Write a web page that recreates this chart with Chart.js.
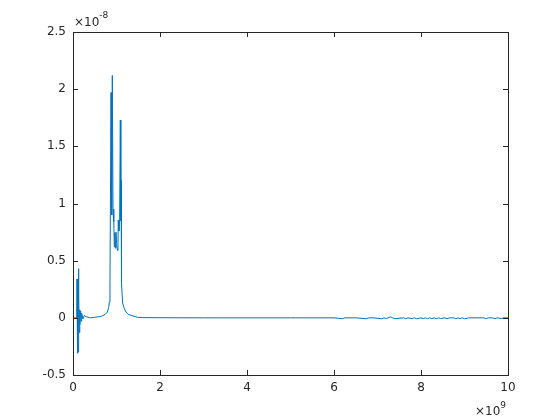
<!DOCTYPE html>
<html>
<head>
<meta charset="utf-8">
<script src="https://cdn.jsdelivr.net/npm/chart.js@4"></script>
<style>
  html, body { margin: 0; padding: 0; background: #fff; }
  #wrap { width: 560px; height: 420px; }
</style>
</head>
<body>
<div id="wrap"><canvas id="plot" width="560" height="420"></canvas></div>
<script>
// frequentie in eenheden van 1e9, amplitude in eenheden van 1e-8
const freq = [
  0, 0.05, 0.085, 0.092, 0.1, 0.107, 0.115, 0.123, 0.13, 0.137, 0.145, 0.152, 0.16, 0.175, 0.19, 0.2, 0.23, 0.26, 0.3,
  0.4, 0.5, 0.6, 0.66, 0.74, 0.79, 0.82, 0.835, 0.85, 0.874, 0.889, 0.904, 0.92, 0.935, 0.94, 0.95, 0.958, 0.965,
  0.975, 0.988, 1.003, 1.02, 1.034, 1.04, 1.057, 1.072, 1.088, 1.1, 1.105, 1.11, 1.12, 1.14, 1.18, 1.22, 1.27,
  1.35, 1.48, 1.6, 2, 3, 4, 5, 6, 6.2, 6.25, 6.3, 6.5, 6.75, 6.8, 6.9, 7.1, 7.15, 7.2, 7.3, 7.35, 7.4, 7.6,
  7.65, 7.7, 7.8, 7.85, 7.9, 8.0, 8.05, 8.1, 8.15, 8.2, 8.25, 8.3, 8.35, 8.4, 8.45, 8.55, 8.6, 8.65, 8.75,
  8.8, 8.85, 8.9, 8.95, 9.0, 9.1, 9.45, 9.5, 9.55, 9.65, 9.7, 9.75, 9.85, 9.9, 10
];
const amp = [
  0, 0, 0, 0.34, -0.31, 0.33, -0.30, 0.43, -0.05, 0.17, -0.13, 0.07, -0.06, 0.06, -0.03, 0.04, -0.01, 0.02, 0.01,
  0, 0.005, 0.01, 0.015, 0.03, 0.05, 0.09, 0.14, 0.31, 1.97, 0.9, 2.12, 0.92, 0.95, 0.84, 0.62, 0.72, 0.745,
  0.61, 0.75, 0.65, 0.59, 0.63, 0.855, 0.76, 0.84, 1.73, 0.85, 1.2, 0.92, 0.31, 0.13, 0.08, 0.05, 0.03,
  0.02, 0.005, 0.002, 0.001, 0, 0, 0, 0, -0.008, 0, 0, 0, -0.008, 0, 0, -0.008, 0, -0.006, 0.008, 0, -0.008, 0,
  -0.008, 0, -0.007, 0, -0.008, 0, -0.007, 0, -0.008, 0, -0.007, 0, -0.008, 0, -0.006, 0, -0.008, 0, 0,
  -0.008, 0, -0.007, 0, -0.008, 0, 0, -0.008, 0, 0, -0.008, 0, -0.006, 0, 0
];
const xTicks = [0, 2, 4, 6, 8, 10];
const yTicks = [-0.5, 0, 0.5, 1, 1.5, 2, 2.5];
const xExp = '9';
const yExp = '-8';

const axisColor = '#262626';
const fontFam = '"DejaVu Sans", sans-serif';

// box rond het assenstelsel, ticks naar binnen, exponent labels
const matlabAxes = {
  id: 'matlabAxes',
  afterDraw(chart) {
    const { ctx, chartArea: a, scales } = chart;
    ctx.save();
    ctx.strokeStyle = axisColor;
    ctx.lineWidth = 1;
    ctx.strokeRect(Math.round(a.left) + 0.5, Math.round(a.top) + 0.5,
      Math.round(a.right - a.left), Math.round(a.bottom - a.top));
    ctx.beginPath();
    xTicks.forEach(v => {
      const px = Math.round(scales.x.getPixelForValue(v)) + 0.5;
      ctx.moveTo(px, a.bottom); ctx.lineTo(px, a.bottom - 5);
      ctx.moveTo(px, a.top); ctx.lineTo(px, a.top + 5);
    });
    yTicks.forEach(v => {
      const py = Math.round(scales.y.getPixelForValue(v)) + 0.5;
      ctx.moveTo(a.left, py); ctx.lineTo(a.left + 5, py);
      ctx.moveTo(a.right, py); ctx.lineTo(a.right - 5, py);
    });
    ctx.stroke();

    ctx.fillStyle = axisColor;
    ctx.textBaseline = 'alphabetic';
    ctx.textAlign = 'left';
    const big = '12px ' + fontFam, small = '9px ' + fontFam;
    // ×10^-8 linksboven
    ctx.font = big;
    ctx.fillText('\u00d710', a.left + 1, a.top - 6);
    let w = ctx.measureText('\u00d710').width;
    ctx.font = small;
    ctx.fillText(yExp, a.left + 1 + w, a.top - 14);
    // ×10^9 rechtsonder
    ctx.font = big;
    w = ctx.measureText('\u00d710').width;
    ctx.font = small;
    const w2 = ctx.measureText(xExp).width;
    const x0 = a.right - w - w2 - 2;
    ctx.font = big;
    ctx.fillText('\u00d710', x0, a.bottom + 40);
    ctx.font = small;
    ctx.fillText(xExp, x0 + w, a.bottom + 33);
    ctx.restore();
  }
};

const ctx = document.getElementById('plot').getContext('2d');
new Chart(ctx, {
  type: 'line',
  data: {
    datasets: [{
      data: freq.map((f, i) => ({ x: f, y: amp[i] })),
      borderColor: '#0072BD',
      borderWidth: 1,
      pointRadius: 0,
      tension: 0,
      fill: false
    }]
  },
  options: {
    responsive: false,
    animation: false,
    layout: { padding: { left: 0, right: 52, top: 32, bottom: 0 } },
    plugins: { legend: { display: false }, tooltip: { enabled: false } },
    scales: {
      x: {
        type: 'linear',
        min: 0, max: 10,
        afterBuildTicks: s => { s.ticks = xTicks.map(v => ({ value: v })); },
        afterFit: s => { s.height = 45; },
        grid: { display: false, drawTicks: false },
        border: { display: false },
        ticks: { color: axisColor, font: { family: 'DejaVu Sans', size: 12 }, padding: 6, maxRotation: 0,
          callback: v => String(v) }
      },
      y: {
        min: -0.5, max: 2.5,
        afterBuildTicks: s => { s.ticks = yTicks.map(v => ({ value: v })); },
        afterFit: s => { s.width = 73; },
        grid: { display: false, drawTicks: false },
        border: { display: false },
        ticks: { color: axisColor, font: { family: 'DejaVu Sans', size: 12 }, padding: 7,
          callback: v => String(v) }
      }
    }
  },
  plugins: [matlabAxes]
});
</script>
</body>
</html>
